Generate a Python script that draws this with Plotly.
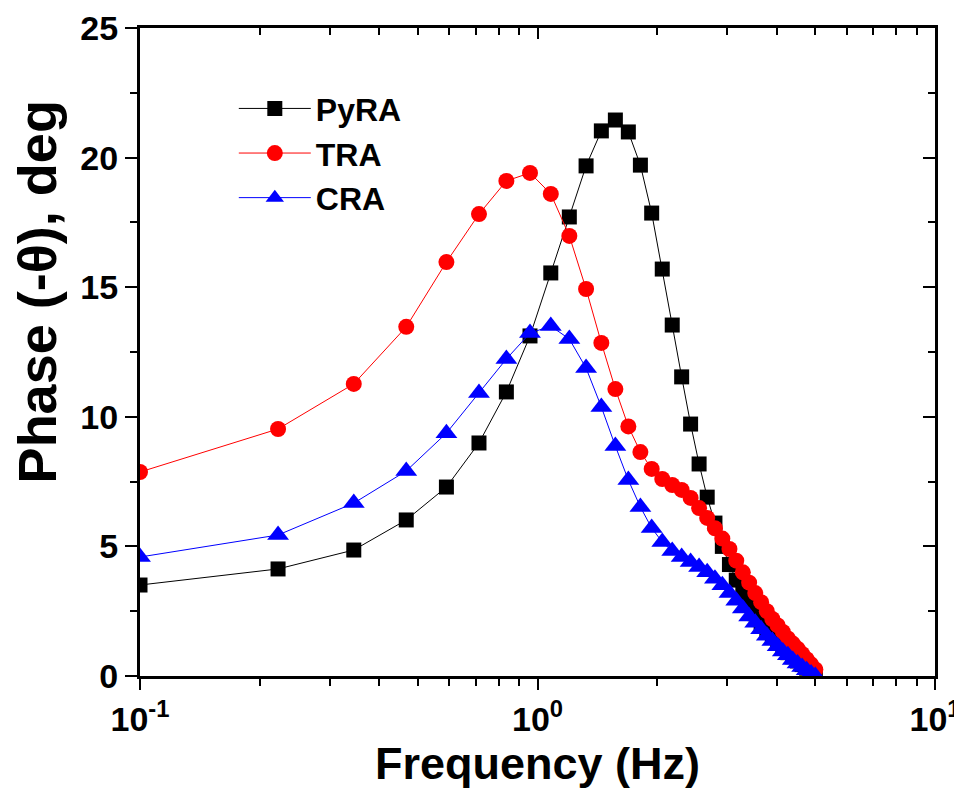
import plotly.graph_objects as go

freq = [0.1, 0.2225, 0.345, 0.4675, 0.59, 0.7125, 0.835, 0.9575, 1.08, 1.2025,
        1.325, 1.4475, 1.57, 1.6925, 1.815, 1.9375, 2.06, 2.1825, 2.305, 2.4275,
        2.55, 2.6725, 2.795, 2.9175, 3.04, 3.1625, 3.285, 3.4075, 3.53, 3.6525,
        3.775, 3.8975, 4.02, 4.1425, 4.265, 4.3875, 4.51, 4.6325, 4.755, 4.8775, 5.0]

pyra = [3.51, 4.13, 4.86, 6.02, 7.29, 8.99, 10.96, 13.12, 15.55, 17.71,
        19.68, 21.03, 21.45, 20.99, 19.71, 17.86, 15.70, 13.54, 11.54, 9.72,
        8.18, 6.90, 5.90, 5.00, 4.30, 3.70, 3.20, 2.75, 2.40, 2.05,
        1.75, 1.50, 1.28, 1.08, 0.90, 0.74, 0.58, 0.44, 0.30, 0.17, 0.05]

tra = [7.87, 9.53, 11.27, 13.47, 15.97, 17.82, 19.10, 19.41, 18.60, 16.98,
       14.93, 12.85, 11.07, 9.63, 8.64, 7.99, 7.60, 7.37, 7.18, 6.87,
       6.48, 6.10, 5.70, 5.30, 4.90, 4.45, 4.00, 3.60, 3.20, 2.85,
       2.50, 2.20, 1.95, 1.70, 1.45, 1.25, 1.05, 0.85, 0.65, 0.45, 0.25]

cra = [4.59, 5.44, 6.67, 7.91, 9.37, 10.92, 12.23, 13.23, 13.50, 13.00,
       11.88, 10.38, 8.87, 7.56, 6.52, 5.71, 5.17, 4.82, 4.59, 4.40,
       4.21, 4.00, 3.75, 3.50, 3.20, 2.90, 2.60, 2.30, 2.05, 1.80,
       1.55, 1.35, 1.15, 0.95, 0.80, 0.62, 0.48, 0.35, 0.22, 0.10, 0.00]

x_major = [0.1, 1, 10]
x_major_text = ["10<sup>-1</sup>", "10<sup>0</sup>", "10<sup>1</sup>"]
x_minor = [0.2, 0.3, 0.4, 0.5, 0.6, 0.7, 0.8, 0.9, 2, 3, 4, 5, 6, 7, 8, 9]
y_major = [0, 5, 10, 15, 20, 25]

FONT = "Liberation Sans, Arial, sans-serif"

fig = go.Figure()
fig.add_trace(go.Scatter(x=freq, y=pyra, name="PyRA", mode="lines+markers",
                         line=dict(color="#000000", width=1),
                         marker=dict(symbol="square", size=15, color="#000000")))
fig.add_trace(go.Scatter(x=freq, y=tra, name="TRA", mode="lines+markers",
                         line=dict(color="#ff0000", width=1),
                         marker=dict(symbol="circle", size=16, color="#ff0000")))
fig.add_trace(go.Scatter(x=freq, y=cra, name="CRA", mode="lines+markers",
                         line=dict(color="#0000ff", width=1),
                         marker=dict(symbol="triangle-up", size=19, color="#0000ff")))

fig.update_layout(
    width=954, height=781,
    margin=dict(l=132, r=27, t=20, b=113),
    paper_bgcolor="white", plot_bgcolor="white",
    font=dict(family=FONT, color="black"),
    showlegend=True,
    legend=dict(x=0.118, y=0.918, xanchor="left", yanchor="top",
                bgcolor="rgba(0,0,0,0)", borderwidth=0,
                font=dict(family=FONT, size=32, color="black", weight="bold"),
                itemwidth=72, tracegroupgap=0),
    xaxis=dict(type="log", range=[-1, 1], showgrid=False, zeroline=False, automargin=False,
               showline=True, linecolor="black", linewidth=3, ticklabeloverflow="allow",
               ticks="outside", ticklen=11, tickwidth=2, tickcolor="black",
               tickmode="array", tickvals=x_major, ticktext=x_major_text,
               minor=dict(tickmode="array", tickvals=x_minor, ticks="outside",
                          ticklen=7, tickwidth=2, tickcolor="black", showgrid=False),
               tickfont=dict(family=FONT, size=34, color="black", weight="bold")),
    xaxis2=dict(type="log", range=[-1, 1], overlaying="x", side="top", automargin=False,
                showgrid=False, zeroline=False, showline=True, linecolor="black", linewidth=3,
                ticks="inside", ticklen=11, tickwidth=2, tickcolor="black",
                tickmode="array", tickvals=x_major, showticklabels=False,
                minor=dict(tickmode="array", tickvals=x_minor, ticks="inside",
                           ticklen=7, tickwidth=2, tickcolor="black", showgrid=False)),
    yaxis=dict(range=[0, 25], showgrid=False, zeroline=False, automargin=False,
               showline=True, linecolor="black", linewidth=3, ticklabeloverflow="allow",
               ticks="outside", ticklen=12, tickwidth=2, tickcolor="black",
               tickmode="array", tickvals=y_major,
               minor=dict(dtick=2.5, tick0=0, ticks="outside", ticklen=7,
                          tickwidth=2, tickcolor="black", showgrid=False),
               tickfont=dict(family=FONT, size=34, color="black", weight="bold")),
    yaxis2=dict(range=[0, 25], overlaying="y", side="right", showgrid=False, automargin=False,
                zeroline=False, showline=True, linecolor="black", linewidth=3,
                ticks="inside", ticklen=12, tickwidth=2, tickcolor="black",
                tickmode="array", tickvals=y_major, showticklabels=False,
                minor=dict(dtick=2.5, tick0=0, ticks="inside", ticklen=7,
                           tickwidth=2, tickcolor="black", showgrid=False)),
    annotations=[
        dict(text="Frequency (Hz)", xref="paper", yref="paper", x=0.5, y=-0.135,
             xanchor="center", yanchor="middle", showarrow=False,
             font=dict(family=FONT, size=45, color="black", weight="bold")),
        dict(text="Phase (-θ), deg", xref="paper", yref="paper", x=-0.13, y=0.593,
             xanchor="center", yanchor="middle", textangle=-90, showarrow=False,
             font=dict(family=FONT, size=54, color="black", weight="bold")),
    ],
)

# invisible trace to activate the mirror axes
fig.add_trace(go.Scatter(x=[0.1], y=[0], xaxis="x2", yaxis="y2", mode="markers",
                         marker=dict(opacity=0), showlegend=False, hoverinfo="skip"))

fig.write_html("out.html")
